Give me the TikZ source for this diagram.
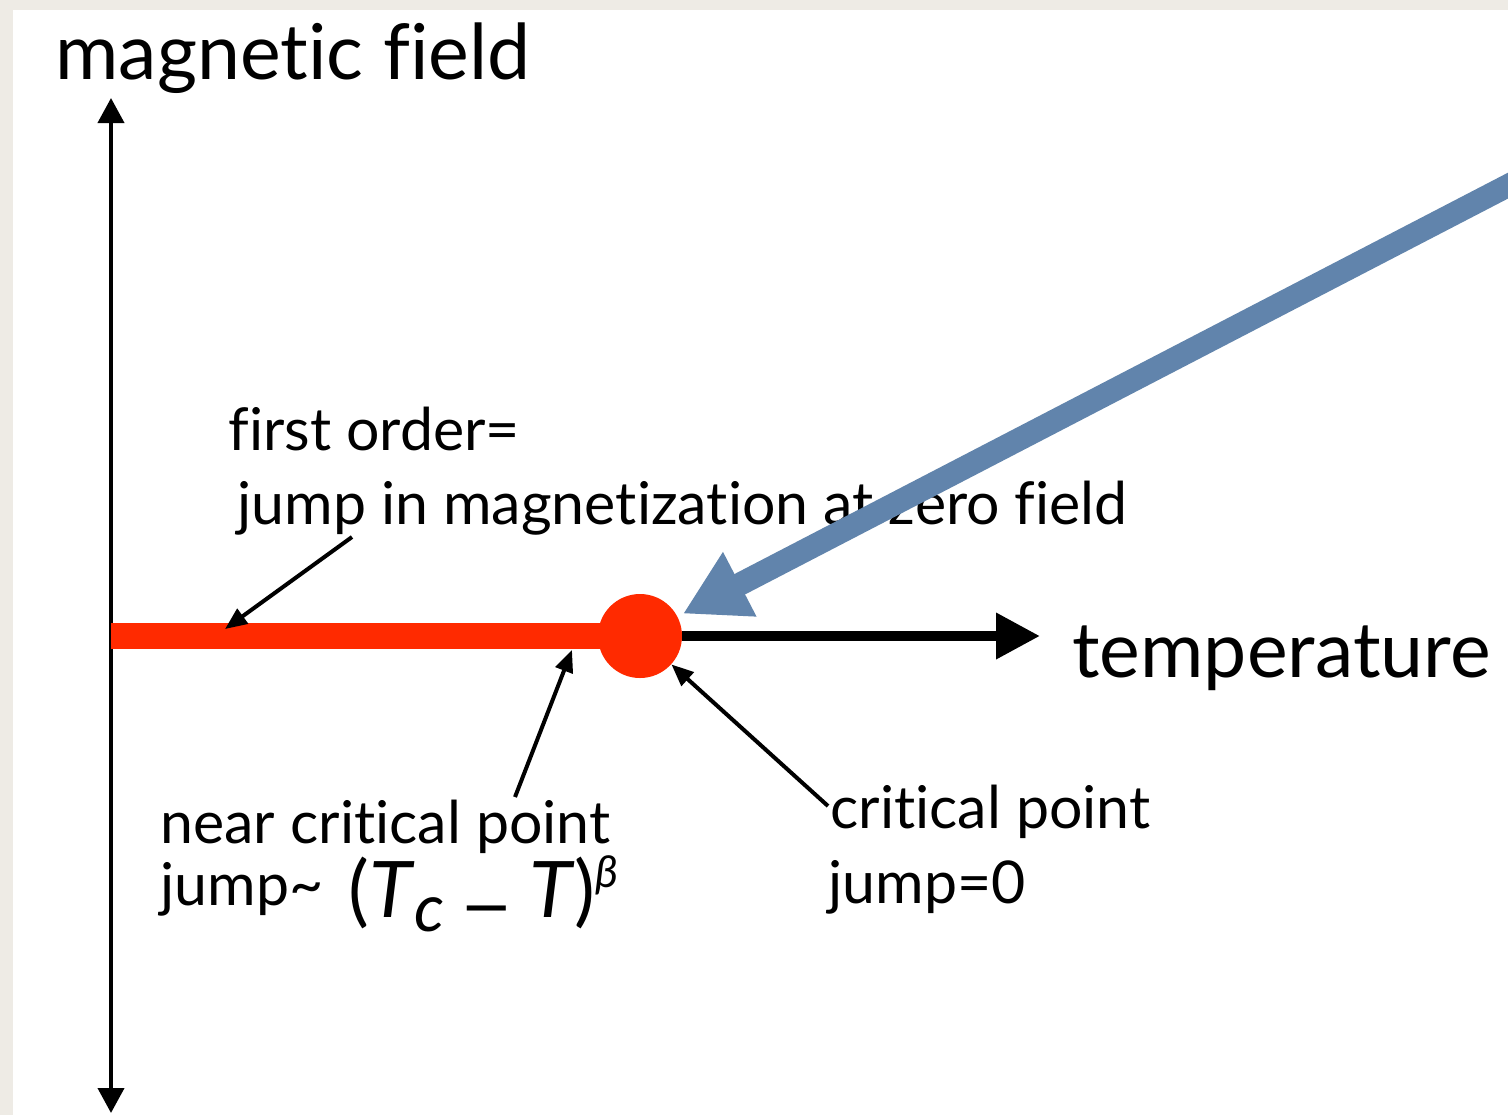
\documentclass[tikz,border=0pt]{standalone}
\usepackage{fontspec}
\setmainfont[Ligatures=NoCommon]{Lato}
\usepackage{tikz}
\usetikzlibrary{arrows.meta}
\definecolor{paper}{RGB}{238,235,229}
\definecolor{jumpred}{RGB}{255,42,0}
\definecolor{pointerblue}{RGB}{97,132,172}
\tikzset{
  biglbl/.style={font=\fontsize{38.5}{44}\selectfont, inner sep=0pt, anchor=base west},
  lbl/.style={font=\fontsize{29.5}{34}\selectfont, inner sep=0pt, anchor=base west},
  pointer/.style={line width=2pt, -{Triangle[length=11pt,width=9pt]}},
}

\begin{document}
\begin{tikzpicture}[x=0.5pt,y=-0.5pt]
\useasboundingbox (0,0) rectangle (1508,1115);
\clip (0,0) rectangle (1508,1115);
\fill[paper] (0,0) rectangle (1508,1115);
\fill[white] (13,10) rectangle (1508,1115);

% axes
\coordinate (hbot) at (111,1113);
\coordinate (htop) at (111,98);
\coordinate (origin) at (111,636);
\coordinate (tend) at (1040,636);
\draw[line width=2pt, {Triangle[length=12.5pt,width=13pt]}-{Triangle[length=12.5pt,width=13pt]}] (hbot) -- (htop);
\node[circle, fill=jumpred, minimum size=42pt, inner sep=0pt] (cp) at (640,636) {};
\draw[jumpred, line width=13pt] (origin) -- (cp.center);
\draw[line width=5pt, -{Triangle[length=22pt,width=22pt]}] (cp) -- (tend);

\node[biglbl] (hlbl) at (55,79) {magnetic field};
\node[biglbl] (tlbl) at (1072,677) {temperature};

% labels
\node[lbl] (fo) at (228,450) {first order=};
\node[lbl] (jm) at (237,524) {jump in magnetization at zero field};
\node[lbl] (nc) at (160,843) {near critical point};
\node[lbl] (nj) at (160,905) {jump\textasciitilde{}\hspace{5pt} \raisebox{-6pt}{\fontsize{39}{42}\selectfont(\textit{T}\raisebox{-7pt}{\fontsize{33}{33}\selectfont\textit{c}}\hspace{7pt}\raisebox{-7pt}{\scalebox{1.25}[1]{–}}\hspace{7pt}\textit{T})\raisebox{15pt}{\fontsize{22}{22}\selectfont\textit{β}}}};
\node[lbl] (cl) at (830,828) {critical point};
\node[lbl] (cj) at (828,903) {jump=0};

% pointers
\coordinate (jmfoot) at (352,537);
\coordinate (jmtip) at (225,629);
\coordinate (ncfoot) at (515,797);
\coordinate (nctip) at (572,650);
\coordinate (clfoot) at (828,806);
\draw[pointer] (jmfoot) -- (jmtip);
\draw[pointer] (ncfoot) -- (nctip);
\draw[pointer] (clfoot) -- (cp);

\coordinate (bstart) at (1540,169);
\draw[pointerblue, line width=11.5pt, shorten >=3pt, -{Triangle[length=32pt,width=34pt]}] (bstart) -- (cp);
\end{tikzpicture}
\end{document}
